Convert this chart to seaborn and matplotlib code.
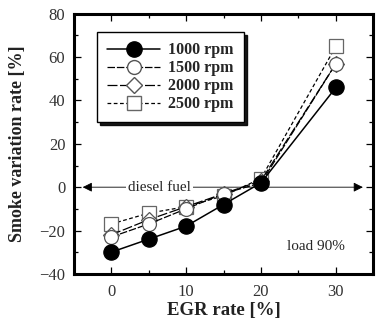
import matplotlib
matplotlib.use("Agg")
import matplotlib.pyplot as plt
import seaborn as sns
import pandas as pd
from matplotlib.ticker import MultipleLocator
from matplotlib.lines import Line2D

egr = [0, 5, 10, 15, 20, 30]
rpm_labels = ["1000 rpm", "1500 rpm", "2000 rpm", "2500 rpm"]
smoke_1000 = [-30, -24, -18, -8, 2, 46]
smoke_1500 = [-23, -17, -10, -3, 2, 57]
smoke_2000 = [-22, -15, -9, -3, 3, 57]
smoke_2500 = [-17, -12, -9, -4, 4, 65]

series = [smoke_1000, smoke_1500, smoke_2000, smoke_2500]
frames = []
for lab, vals in zip(rpm_labels, series):
    frames.append(pd.DataFrame({"EGR": egr, "smoke": vals, "speed": lab}))
df = pd.concat(frames, ignore_index=True)

sns.set_theme(style="ticks")
plt.rcParams["font.family"] = ["Liberation Serif", "DejaVu Serif"]

fig = plt.figure(figsize=(3.76, 3.28), dpi=100)
ax = fig.add_axes([0.196, 0.165, 0.797, 0.793])

styles = {
    "1000 rpm": dict(marker="o", ls="-", mfc="black", mec="black", ms=11, lw=1.1),
    "1500 rpm": dict(marker="o", ls=(0, (6, 1.5)), mfc="white", mec="#555555", ms=10, lw=0.9),
    "2000 rpm": dict(marker="D", ls=(0, (8, 2)), mfc="white", mec="#555555", ms=8, lw=0.9),
    "2500 rpm": dict(marker="s", ls=(0, (3, 2)), mfc="white", mec="#666666", ms=10, lw=0.9),
}

for lab in rpm_labels[::-1]:
    sub = df[df["speed"] == lab]
    st = styles[lab]
    sns.lineplot(data=sub, x="EGR", y="smoke", ax=ax, color="black",
                 linestyle=st["ls"], linewidth=st["lw"], marker=st["marker"],
                 markersize=st["ms"], markerfacecolor=st["mfc"],
                 markeredgecolor=st["mec"], markeredgewidth=0.9,
                 label=lab, legend=False, zorder=3)

handles = []
for lab in rpm_labels:
    st = styles[lab]
    handles.append(Line2D([], [], color="black", linestyle=st["ls"], linewidth=st["lw"],
                          marker=st["marker"], markersize=st["ms"],
                          markerfacecolor=st["mfc"], markeredgecolor=st["mec"]))
leg = ax.legend(handles, rpm_labels, loc="upper left", bbox_to_anchor=(0.078, 0.93),
                frameon=True, fancybox=False, shadow={"color": "black", "alpha": 0.9},
                handlelength=3.3, borderpad=0.65, labelspacing=0.12, handletextpad=0.5,
                borderaxespad=0.0,
                prop={"family": "Liberation Serif", "weight": "bold", "size": 11.5})
leg.get_frame().set_edgecolor("black")
leg.get_frame().set_linewidth(1.0)

# diesel fuel reference arrow
ax.annotate("", xy=(-3.8, 0), xytext=(33.6, 0),
            arrowprops=dict(arrowstyle="<|-|>", color="black", lw=0.6,
                            mutation_scale=14, shrinkA=0, shrinkB=0), zorder=1)
ax.text(6.5, 0, "diesel fuel", ha="center", va="center", fontsize=11,
        bbox=dict(facecolor="white", edgecolor="none", pad=1.5), zorder=2)
ax.text(31.2, -27.5, "load 90%", ha="right", va="center", fontsize=11)

ax.set_xlim(-5, 35)
ax.set_ylim(-40, 80)
ax.xaxis.set_major_locator(MultipleLocator(10))
ax.xaxis.set_minor_locator(MultipleLocator(5))
ax.yaxis.set_major_locator(MultipleLocator(20))
ax.yaxis.set_minor_locator(MultipleLocator(10))
ax.tick_params(which="both", direction="in", top=True, right=True, colors="black",
               labelsize=12, width=0.9, labelcolor="#333333")
ax.tick_params(which="major", length=5)
ax.tick_params(which="minor", length=3)
ax.tick_params(axis="x", pad=7)
ax.tick_params(axis="y", pad=6)
for sp in ax.spines.values():
    sp.set_linewidth(2.2)
    sp.set_color("black")

ax.set_xlabel("EGR rate [%]", fontsize=13.5, fontweight="bold", labelpad=2, color="#222222")
ax.set_ylabel("Smoke variation rate [%]", fontsize=13, fontweight="bold", color="#222222")
ax.yaxis.set_label_coords(-0.16, 0.5)

fig.savefig("out.png", dpi=100)
